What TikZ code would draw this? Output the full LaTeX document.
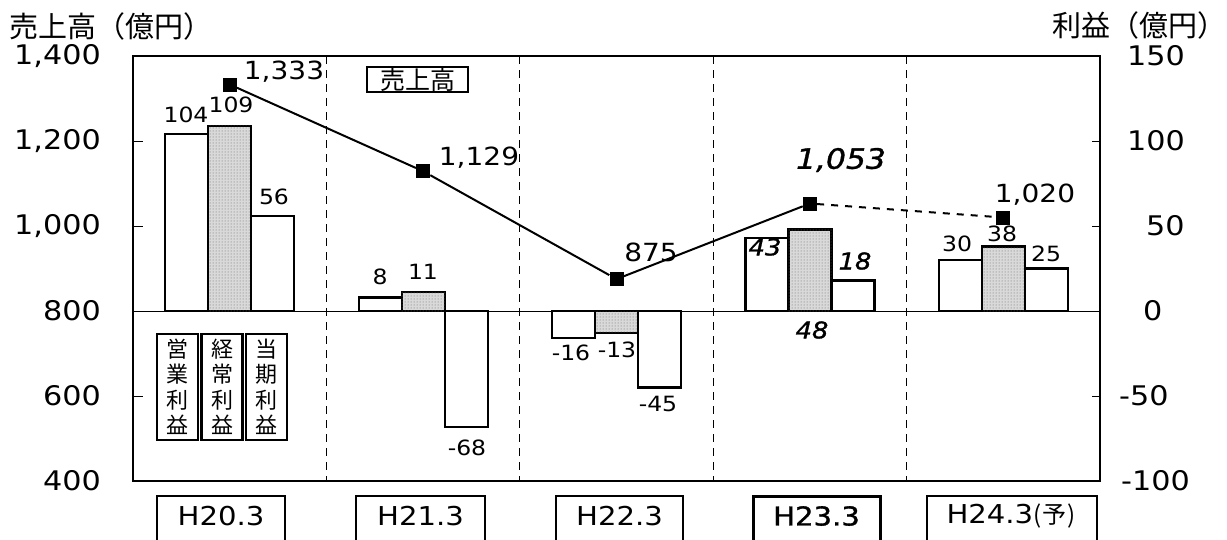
\documentclass[tikz,border=0pt]{standalone}
\usepackage{fontspec}
\setmainfont{DejaVu Sans}[FakeStretch=1.12]
\newfontfamily\semib{DejaVu Sans}[FakeStretch=1.12, FakeBold=1.2]
\newfontfamily\jp{Noto Sans CJK JP}
\usetikzlibrary{patterns}
\begin{document}
\begin{tikzpicture}[x=1pt,y=-1pt,
  axislbl/.style={font=\fontsize{27}{29}\selectfont, inner sep=0},
  barlbl/.style={font=\fontsize{21}{24}\selectfont, inner sep=0},
  hilbl/.style={font=\semib\itshape\fontsize{23}{25}\selectfont, inner sep=0},
  sallbl/.style={font=\fontsize{25}{28}\selectfont, inner sep=0},
  catlbl/.style={font=\fontsize{26}{28}\selectfont, inner sep=0},
  jptitle/.style={font=\jp\fontsize{29}{31}\selectfont, inner sep=0},
  marker/.style={rectangle, fill=black, minimum size=14pt, inner sep=0},
  bar/.style={draw, line width=2.2pt, fill=white},
  shaded/.style={draw, line width=2.2pt, fill=gray!30, postaction={pattern=dots, pattern color=black!60}},
  sep/.style={line width=0.9pt, dash pattern=on 8pt off 6pt},
  salesline/.style={line width=2pt},
  legbox/.style={draw, line width=2.2pt, minimum width=41pt, minimum height=106pt, inner sep=0, align=center, font=\jp\fontsize{22}{25.5}\selectfont},
  catbox/.style={line width=1.5pt}
]
\useasboundingbox (0,0) rectangle (1227,539);
\begin{scope}
\clip (0,0) rectangle (1227,539);

% titles
\node[jptitle, anchor=west] (ttlL) at (9,26) {売上高（億円）};
\node[jptitle, anchor=east] (ttlR) at (1227,25) {利益（億円）};

% separators
\draw[sep] (326.4,56) -- (326.4,481);
\draw[sep] (519.8,56) -- (519.8,481);
\draw[sep] (713.2,56) -- (713.2,481);
\draw[sep] (906.6,56) -- (906.6,481);

% zero line and ticks
\draw[line width=1pt] (133,311) -- (1100,311);
\foreach \yy in {141,226,396} \draw[line width=1pt] (133,\yy) -- (143,\yy);
\foreach \yy in {141,226,396} \draw[line width=1pt] (1092,\yy) -- (1100,\yy);

% bars G1
\draw[bar] (165.2,311) rectangle (208.2,134.2);
\draw[shaded] (208.2,311) rectangle (251.2,125.7);
\draw[bar] (251.2,311) rectangle (294.2,215.8);
% G2
\draw[bar] (358.6,311) rectangle (401.6,297.4);
\draw[shaded] (401.6,311) rectangle (444.6,292.3);
\draw[bar] (444.6,311) rectangle (487.6,426.6);
% G3
\draw[bar] (552.0,311) rectangle (595.0,338.2);
\draw[shaded] (595.0,311) rectangle (638.0,333.1);
\draw[bar] (638.0,311) rectangle (681.0,387.5);
% G4
\draw[bar] (745.4,311) rectangle (788.4,237.9);
\draw[shaded] (788.4,311) rectangle (831.4,229.4);
\draw[bar] (831.4,311) rectangle (874.4,280.4);
% G5
\draw[bar] (938.8,311) rectangle (981.8,260.0);
\draw[shaded] (981.8,311) rectangle (1024.8,246.4);
\draw[bar] (1024.8,311) rectangle (1067.8,268.5);

% frame
\draw[line width=2.5pt] (133,56) rectangle (1100,481);

% sales markers
\node[marker] (m1) at (229.7,84.5) {};
\node[marker] (m2) at (423.1,171.2) {};
\node[marker] (m3) at (616.5,279.1) {};
\node[marker] (m4) at (809.9,203.5) {};
\node[marker] (m5) at (1003.3,217.5) {};
\draw[salesline] (m1) -- (m2) -- (m3) -- (m4);
\draw[salesline, dash pattern=on 7pt off 7pt] (m4) -- (m5);

% sales labels
\node[sallbl] (s1) at (284,72) {1,333};
\node[sallbl] (s2) at (479,158) {1,129};
\node[sallbl] (s3) at (651,252) {875};
\node[font=\semib\itshape\fontsize{28}{30}\selectfont, inner sep=0] (s4) at (841,160) {1,053};
\node[sallbl] (s5) at (1035,195) {1,020};

% bar labels
\node[barlbl] (b11) at (186,114.5) {104};
\node[barlbl] (b12) at (231,105) {109};
\node[barlbl] (b13) at (274,197) {56};
\node[barlbl] (b21) at (380,277) {8};
\node[barlbl] (b22) at (423,272) {11};
\node[barlbl] (b23) at (467,448) {-68};
\node[barlbl] (b31) at (571,353) {-16};
\node[barlbl] (b32) at (617,350) {-13};
\node[barlbl] (b33) at (658,404) {-45};
\node[hilbl] (b41) at (765,247) {43};
\node[hilbl] (b42) at (812,330) {48};
\node[hilbl] (b43) at (855,261) {18};
\node[barlbl] (b51) at (957,244) {30};
\node[barlbl] (b52) at (1002,234) {38};
\node[barlbl] (b53) at (1046,254) {25};

% legends
\node[draw, line width=1.5pt, minimum width=101pt, minimum height=25pt, inner sep=0, font=\jp\fontsize{25}{26}\selectfont] (legS) at (417.5,79.5) {売上高};
\node[legbox] (leg1) at (177.5,387) {営\\業\\利\\益};
\node[legbox] (leg2) at (222,387) {経\\常\\利\\益};
\node[legbox] (leg3) at (266.5,387) {当\\期\\利\\益};

% left axis labels
\node[axislbl, anchor=east] (l1) at (101,56) {1,400};
\node[axislbl, anchor=east] (l2) at (101,141) {1,200};
\node[axislbl, anchor=east] (l3) at (101,226) {1,000};
\node[axislbl, anchor=east] (l4) at (101,311) {800};
\node[axislbl, anchor=east] (l5) at (101,396) {600};
\node[axislbl, anchor=east] (l6) at (101,481) {400};

% right axis labels
\node[axislbl, anchor=west] (r1) at (1127,56) {150};
\node[axislbl, anchor=west] (r2) at (1127,141) {100};
\node[axislbl, anchor=west] (r3) at (1146,226) {50};
\node[axislbl, anchor=west] (r4) at (1143,311) {0};
\node[axislbl, anchor=west] (r5) at (1119,396) {-50};
\node[axislbl, anchor=west] (r6) at (1121,481) {-100};

% category labels
\node[catlbl] (c1) at (221,516) {H20.3};
\node[catlbl] (c2) at (420.5,516) {H21.3};
\node[catlbl] (c3) at (619.5,516) {H22.3};
\node[catlbl, font=\semib\fontsize{26}{28}\selectfont] (c4) at (816.5,516) {H23.3};
\node[catlbl] (c5) at (1011,516) {H24.3{\jp\fontsize{24}{26}\selectfont (\kern1pt予\kern1pt)}};
\draw[catbox] (157,560) -- (157,496) -- (285,496) -- (285,560);
\draw[catbox] (356,560) -- (356,496) -- (485,496) -- (485,560);
\draw[catbox] (556,560) -- (556,496) -- (683,496) -- (683,560);
\draw[line width=3pt] (753,560) -- (753,496) -- (880,496) -- (880,560);
\draw[catbox] (927,560) -- (927,496) -- (1097,496) -- (1097,560);
\end{scope}
\end{tikzpicture}
\end{document}
